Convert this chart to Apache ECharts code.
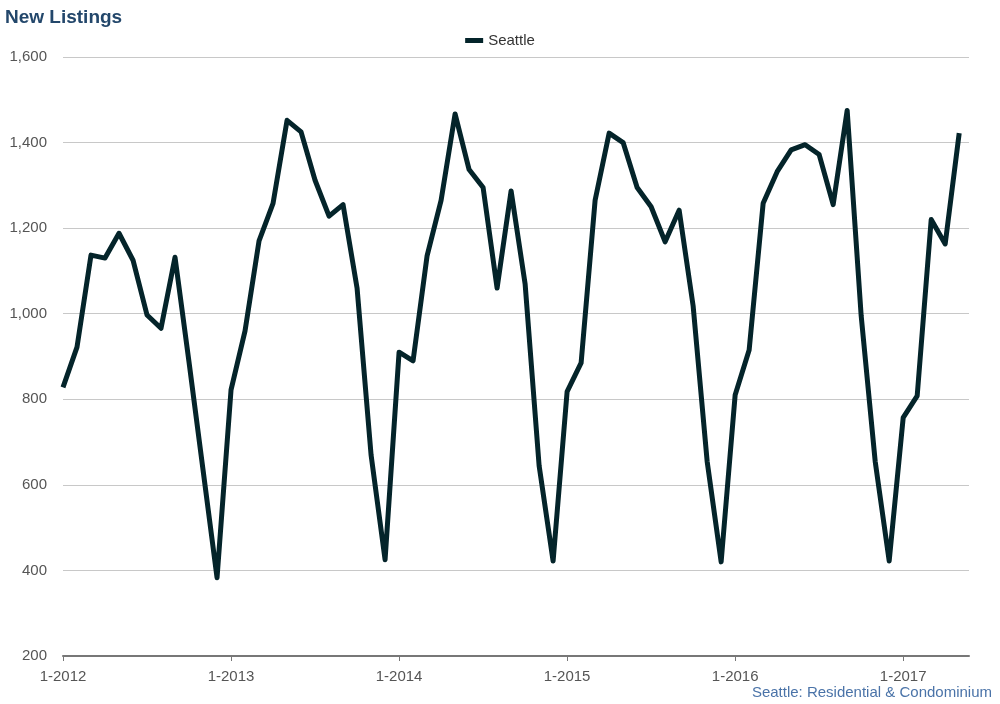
<!DOCTYPE html>
<html>
<head>
<meta charset="utf-8">
<style>
html,body{margin:0;padding:0;background:#fff;}
#chart{width:1000px;height:704px;}
</style>
<script src="https://cdn.jsdelivr.net/npm/echarts@6/dist/echarts.min.js"></script>
</head>
<body>
<div id="chart"></div>
<script>
// Monthly New Listings, Seattle, Jan 2012 .. May 2017
const seriesName = 'Seattle';
const values = [
  828, 922, 1137, 1130, 1188, 1125, 997, 966, 1132, 887, 635, 383,   // 2012
  822, 960, 1170, 1258, 1452, 1425, 1312, 1228, 1255, 1060, 670, 425, // 2013
  910, 890, 1135, 1265, 1467, 1337, 1295, 1060, 1287, 1070, 645, 422, // 2014
  818, 885, 1265, 1422, 1400, 1295, 1250, 1168, 1242, 1018, 655, 420, // 2015
  810, 915, 1258, 1332, 1383, 1395, 1372, 1255, 1475, 995, 655, 422,  // 2016
  757, 808, 1220, 1163, 1422                                          // 2017
];
const tickLabels = ['1-2012', '1-2013', '1-2014', '1-2015', '1-2016', '1-2017'];
const yTicks = [200, 400, 600, 800, 1000, 1200, 1400, 1600];

const font = '"Liberation Sans", Arial, Helvetica, sans-serif';
const chart = echarts.init(document.getElementById('chart'));
chart.setOption({
  animation: false,
  backgroundColor: '#ffffff',
  title: [{
    text: 'New Listings',
    left: 5, top: 8, padding: 0,
    textStyle: {fontFamily: font, fontSize: 19, fontWeight: 'bold', color: '#23476b'}
  }, {
    text: 'Seattle: Residential & Condominium',
    right: 8, top: 685, padding: 0,
    textStyle: {fontFamily: font, fontSize: 15, fontWeight: 'normal', color: '#4a73a8'}
  }],
  legend: {
    top: 33, left: 'center', padding: 0,
    icon: 'rect', itemWidth: 18, itemHeight: 5, itemGap: 8,
    textStyle: {fontFamily: font, fontSize: 15, color: '#333'},
    data: [seriesName]
  },
  grid: {left: 63, right: 31, top: 57, bottom: 48, containLabel: false},
  xAxis: {
    type: 'value',
    min: 0, max: 64.7, interval: 12,
    axisLine: {show: true, lineStyle: {color: '#777', width: 2}},
    axisTick: {show: true, length: 5, lineStyle: {color: '#777', width: 1}},
    splitLine: {show: false},
    axisLabel: {
      margin: 13,
      fontFamily: font, fontSize: 15, color: '#555',
      showMaxLabel: false,
      formatter: v => tickLabels[Math.round(v / 12)] || ''
    }
  },
  yAxis: {
    type: 'value',
    min: yTicks[0], max: yTicks[yTicks.length - 1], interval: 200,
    axisLine: {show: false},
    axisTick: {show: false},
    splitLine: {show: true, lineStyle: {color: '#c8c8c8', width: 1}},
    axisLabel: {
      margin: 16,
      fontFamily: font, fontSize: 15, color: '#555',
      formatter: v => v.toLocaleString('en-US')
    }
  },
  series: [{
    name: seriesName,
    type: 'line',
    data: values.map((v, i) => [i, v]),
    showSymbol: false,
    symbol: 'none',
    lineStyle: {color: '#04242a', width: 5, join: 'round', cap: 'butt'},
    itemStyle: {color: '#04242a'}
  }]
});
</script>
</body>
</html>
